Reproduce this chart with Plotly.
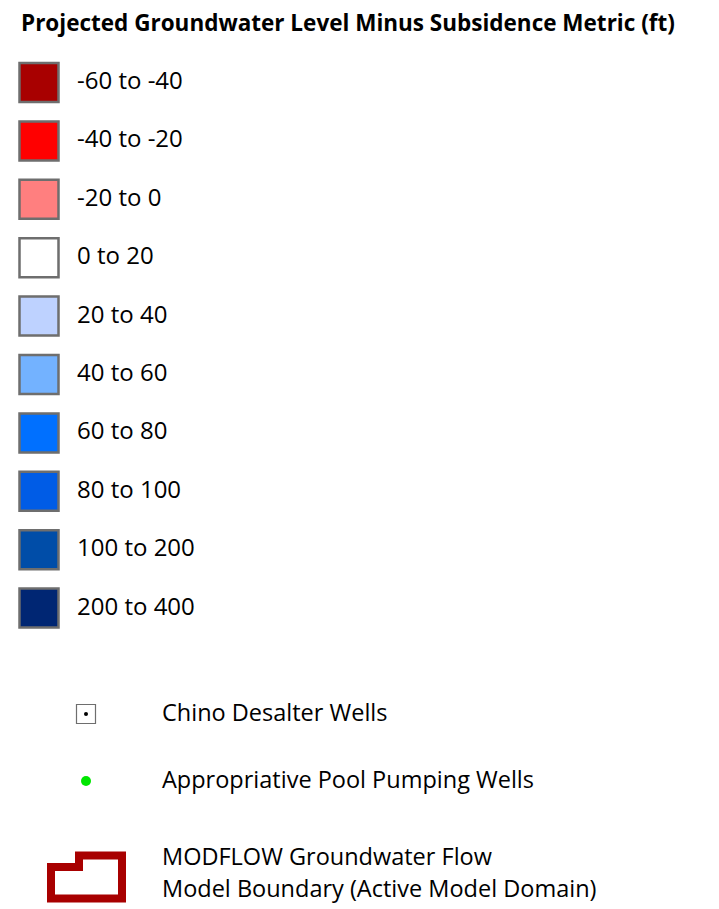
import plotly.graph_objects as go

title = "Projected Groundwater Level Minus Subsidence Metric (ft)"
class_labels = ["-60 to -40", "-40 to -20", "-20 to 0", "0 to 20", "20 to 40",
                "40 to 60", "60 to 80", "80 to 100", "100 to 200", "200 to 400"]
class_colors = ["#A80000", "#FF0000", "#FF7F7F", "#FFFFFF", "#BED2FF",
                "#73B2FF", "#0070FF", "#005CE6", "#004DA8", "#002673"]
point_labels = ["Chino Desalter Wells", "Appropriative Pool Pumping Wells"]
boundary_label = ["MODFLOW Groundwater Flow", "Model Boundary (Active Model Domain)"]

W, H = 719, 909
OFF = 8  # page body margin
FONT = "Open Sans"

# layout positions (page pixels)
row0, row_step = 82.5, 58.4
swatch_x, label_x = 39, 77
rows = [row0 + i * row_step for i in range(len(class_labels))]

fig = go.Figure()

fig.add_trace(go.Scatter(
    x=[swatch_x] * len(rows), y=rows, mode="markers",
    marker=dict(symbol="square", size=39, color=class_colors,
                line=dict(color="#6E6E6E", width=2.5)),
    hoverinfo="skip", showlegend=False))
fig.add_trace(go.Scatter(
    x=[label_x] * len(rows), y=[r + 0.5 for r in rows], mode="text", text=class_labels,
    textposition="middle right",
    textfont=dict(family=FONT, size=24, color="#000000"),
    hoverinfo="skip", showlegend=False))

# point symbols
pt_x, pt_label_x = 86, 162
pt_rows = [714, 781]
fig.add_trace(go.Scatter(
    x=[pt_x], y=[pt_rows[0]], mode="markers",
    marker=dict(symbol="square", size=19, color="#FFFFFF",
                line=dict(color="#6E6E6E", width=1.2)),
    hoverinfo="skip", showlegend=False))
fig.add_trace(go.Scatter(
    x=[pt_x], y=[pt_rows[0]], mode="markers",
    marker=dict(symbol="circle", size=4, color="#000000"),
    hoverinfo="skip", showlegend=False))
fig.add_trace(go.Scatter(
    x=[pt_x], y=[pt_rows[1]], mode="markers",
    marker=dict(symbol="circle", size=10, color="#00E600", line=dict(width=0)),
    hoverinfo="skip", showlegend=False))
fig.add_trace(go.Scatter(
    x=[pt_label_x] * 2, y=[p + 1.5 for p in pt_rows], mode="text", text=point_labels,
    textposition="middle right",
    textfont=dict(family=FONT, size=23.5, color="#000000"),
    hoverinfo="skip", showlegend=False))

# boundary icon
bx0, bx1, bxm = 51, 122, 79
by_top, by_step, by_bot = 855.5, 867, 898.5
fig.add_shape(type="path",
              path=f"M {bx0} {by_bot} L {bx0} {by_step} L {bxm} {by_step} L {bxm} {by_top} "
                   f"L {bx1} {by_top} L {bx1} {by_bot} Z",
              line=dict(color="#A80000", width=8), fillcolor="rgba(0,0,0,0)",
              xref="x", yref="y")
fig.add_trace(go.Scatter(
    x=[pt_label_x] * 2, y=[859, 891], mode="text", text=boundary_label,
    textposition="middle right",
    textfont=dict(family=FONT, size=23.5, color="#000000"),
    hoverinfo="skip", showlegend=False))

fig.add_annotation(x=19, y=22, xref="x", yref="y", text=f"<b>{title}</b>",
                   showarrow=False, xanchor="left", yanchor="middle",
                   font=dict(family=FONT, size=22.5, color="#000000"))

fig.update_layout(
    width=W, height=H, margin=dict(l=0, r=0, t=0, b=0),
    paper_bgcolor="#FFFFFF", plot_bgcolor="#FFFFFF",
    xaxis=dict(range=[OFF, W + OFF], visible=False, fixedrange=True),
    yaxis=dict(range=[H + OFF, OFF], visible=False, fixedrange=True),
)

fig.write_html("out.html")
